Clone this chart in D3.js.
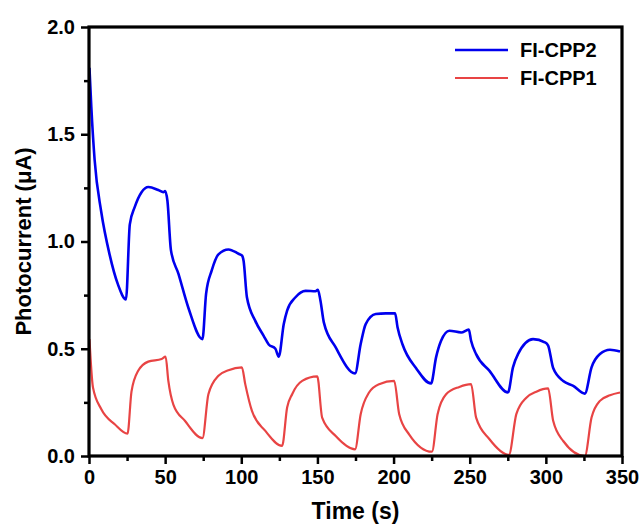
<!DOCTYPE html>
<html lang="en">
<head>
  <meta charset="UTF-8">
  <title>Photocurrent</title>
  <style>
    body { margin: 0; background: #fff; }
    svg text { font-family: "Liberation Sans", Arial, sans-serif; font-weight: bold; fill: #000; }
  </style>
</head>
<body>
<div id="chart"></div>
<script src="https://d3js.org/d3.v7.min.js"></script>
<script>
  // FI-CPP2 (blue)
  const cpp2Time = [0.3, 1.5, 3.7, 8, 13.5, 19, 24.3, 26.8, 30, 34.5, 39, 45.5, 48.8, 50, 51.5, 53.8, 58.7, 65.3, 74.5,
    76.9, 80.6, 85, 91.6, 98.2, 100.4, 101.5, 103.7, 109.2, 114.7, 118, 122.4, 124.6,
    127.9, 130.1, 135.6, 142.2, 148.8, 150.3, 152, 154.2, 162, 174.7,
    178.4, 181.7, 188.3, 194.9, 201, 202.6, 205.9, 214.7, 224.6,
    227.9, 231.2, 236.7, 244.4, 249.4, 250.9, 254.2, 263, 275.1,
    278.4, 281.7, 291.6, 299.3, 301.5, 304.8, 311.4, 318, 325.6,
    330, 335.5, 342.1, 348.7];
  const cpp2Current = [1.81, 1.63, 1.38, 1.14, 0.94, 0.80, 0.73, 1.08, 1.16, 1.23, 1.254, 1.24, 1.23, 1.235, 1.19, 0.96, 0.85, 0.69, 0.545,
    0.757, 0.865, 0.94, 0.963, 0.943, 0.935, 0.91, 0.74, 0.63, 0.56, 0.52, 0.50, 0.463,
    0.615, 0.678, 0.74, 0.77, 0.768, 0.775, 0.724, 0.623, 0.506, 0.385,
    0.522, 0.615, 0.662, 0.665, 0.665, 0.60, 0.52, 0.41, 0.338,
    0.46, 0.537, 0.584, 0.576, 0.589, 0.537, 0.475, 0.397, 0.296,
    0.413, 0.475, 0.545, 0.53, 0.515, 0.41, 0.35, 0.327, 0.291,
    0.413, 0.475, 0.495, 0.487];

  // FI-CPP1 (red)
  const cpp1Time = [0.3, 2.6, 8.1, 16.9, 25.3, 27.9, 32.3, 38.9, 47.7, 50.3,
    52.1, 55.4, 63.1, 74.5, 78.4, 85, 91.6, 100.4,
    102.6, 107, 115.8, 126.8, 130.1, 133.4, 140, 149.9,
    153.1, 162, 174.7, 178.4, 183.9, 190.5, 200.4,
    203.7, 210.3, 225.2, 228.9, 234.5, 243.2, 250.9,
    254.2, 263, 275.7, 280.6, 287.2, 293.8, 301.5,
    304.8, 311.4, 325.6, 330, 335.5, 342.1, 348.7];
  const cpp1Current = [0.545, 0.32, 0.218, 0.148, 0.104, 0.30, 0.397, 0.44, 0.452, 0.463,
    0.35, 0.24, 0.163, 0.083, 0.288, 0.374, 0.40, 0.413,
    0.335, 0.21, 0.117, 0.047, 0.226, 0.288, 0.35, 0.371,
    0.179, 0.093, 0.031, 0.195, 0.296, 0.335, 0.35,
    0.195, 0.10, 0.02, 0.195, 0.288, 0.322, 0.335,
    0.179, 0.078, 0.005, 0.195, 0.272, 0.30, 0.315,
    0.164, 0.07, 0.0, 0.179, 0.257, 0.283, 0.296];

  const xTicks = [0, 50, 100, 150, 200, 250, 300, 350];
  const yTicks = [0, 0.5, 1.0, 1.5, 2.0];

  const series = [
    { name: 'FI-CPP2', color: '#0000ee', width: 2.6, t: cpp2Time, v: cpp2Current },
    { name: 'FI-CPP1', color: '#e84444', width: 2.2, t: cpp1Time, v: cpp1Current }
  ];

  const width = 644, height = 527;
  const margin = { top: 27, right: 22, bottom: 71, left: 89 };
  const plotW = width - margin.left - margin.right;
  const plotH = height - margin.top - margin.bottom;

  const svg = d3.select('#chart').append('svg')
    .attr('width', width)
    .attr('height', height);

  const g = svg.append('g')
    .attr('transform', `translate(${margin.left},${margin.top})`);

  const x = d3.scaleLinear().domain([0, 350]).range([0, plotW]);
  const y = d3.scaleLinear().domain([0, 2]).range([plotH, 0]);

  g.append('clipPath').attr('id', 'clip')
    .append('rect').attr('width', plotW).attr('height', plotH);

  // lines
  const line = d3.line()
    .x(d => x(d[0]))
    .y(d => y(d[1]))
    .curve(d3.curveMonotoneX);

  series.forEach(s => {
    g.append('path')
      .datum(s.t.map((t, i) => [t, s.v[i]]))
      .attr('clip-path', 'url(#clip)')
      .attr('fill', 'none')
      .attr('stroke', s.color)
      .attr('stroke-width', s.width)
      .attr('stroke-linejoin', 'round')
      .attr('d', line);
  });

  // minor ticks
  const xMinor = d3.range(25, 350, 50);
  const yMinor = d3.range(0.25, 2, 0.5);

  g.append('g')
    .attr('transform', `translate(0,${plotH})`)
    .call(d3.axisBottom(x).tickValues(xMinor).tickSize(5).tickFormat(''))
    .call(a => a.select('.domain').remove())
    .selectAll('line').attr('stroke-width', 2.5);

  g.append('g')
    .call(d3.axisLeft(y).tickValues(yMinor).tickSize(5).tickFormat(''))
    .call(a => a.select('.domain').remove())
    .selectAll('line').attr('stroke-width', 2.5);

  // major axes
  const xAxis = g.append('g')
    .attr('transform', `translate(0,${plotH})`)
    .call(d3.axisBottom(x).tickValues(xTicks).tickSize(8).tickPadding(6).tickFormat(d3.format('d')));
  xAxis.select('.domain').remove();
  xAxis.selectAll('line').attr('stroke-width', 2.5);
  xAxis.selectAll('text').style('font-size', '20px');

  const yAxis = g.append('g')
    .call(d3.axisLeft(y).tickValues(yTicks).tickSize(8).tickPadding(6).tickFormat(d3.format('.1f')));
  yAxis.select('.domain').remove();
  yAxis.selectAll('line').attr('stroke-width', 2.5);
  yAxis.selectAll('text').style('font-size', '20px');

  // frame
  g.append('rect')
    .attr('width', plotW)
    .attr('height', plotH)
    .attr('fill', 'none')
    .attr('stroke', '#000')
    .attr('stroke-width', 3.2);

  // axis titles
  svg.append('text')
    .attr('x', margin.left + plotW / 2)
    .attr('y', 519)
    .attr('text-anchor', 'middle')
    .style('font-size', '23px')
    .text('Time (s)');

  svg.append('text')
    .attr('transform', `translate(31,${margin.top + plotH / 2}) rotate(-90)`)
    .attr('text-anchor', 'middle')
    .style('font-size', '22px')
    .text('Photocurrent (μA)');

  // legend
  const legend = g.append('g').attr('transform', `translate(${455 - margin.left},${50 - margin.top})`);
  series.forEach((s, i) => {
    const row = legend.append('g').attr('transform', `translate(0,${i * 28})`);
    row.append('line')
      .attr('x1', 0).attr('x2', 53)
      .attr('y1', 0).attr('y2', 0)
      .attr('stroke', s.color)
      .attr('stroke-width', s.width);
    row.append('text')
      .attr('x', 65)
      .attr('y', 7)
      .style('font-size', '20px')
      .text(s.name);
  });
</script>
</body>
</html>
